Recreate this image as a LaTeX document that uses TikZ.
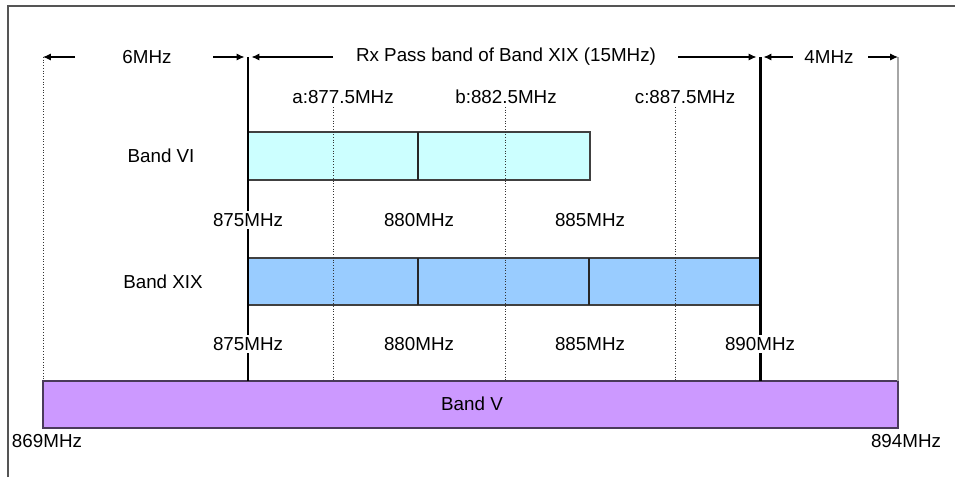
\documentclass[tikz,border=0pt]{standalone}
\usepackage{fontspec}
\setmainfont{Liberation Sans}
\usepackage{xcolor}
\usepackage{tikz}
\usetikzlibrary{arrows.meta}
\definecolor{bandSixColor}{HTML}{CCFFFF}
\definecolor{bandNineteenColor}{HTML}{99CCFF}
\definecolor{bandFiveColor}{HTML}{CC99FF}
\definecolor{bandFiveLine}{HTML}{4A3A5A}
\definecolor{frameColor}{HTML}{555555}

\begin{document}
\begin{tikzpicture}[x=0.02cm, y=-0.02cm, font=\fontsize{10.7}{12.8}\selectfont,
    dim/.style={-{Latex[length=4.5pt, width=4pt]}, line width=0.6pt},
    edgeline/.style={line width=1.7pt},
    markline/.style={densely dotted, line width=0.55pt, black!80},
    bandbox/.style={draw=black!75, line width=0.8pt},
    divider/.style={line width=1.2pt, black!85},
    freq/.style={fill=white, inner sep=1.5pt}]
    \useasboundingbox (0,0) rectangle (955,477);
    \draw[frameColor, line width=1.3pt] (8,477) -- (8,6) -- (955,6);

    % band edges
    \coordinate (top869) at (43,57);  \coordinate (bot869) at (43,381);
    \coordinate (top875) at (248,57); \coordinate (bot875) at (248,381);
    \coordinate (top890) at (760,57); \coordinate (bot890) at (760,381);
    \coordinate (top894) at (898,57); \coordinate (bot894) at (898,381);

    \draw[bandbox, fill=bandSixColor] (248,132) rectangle (590,180);
    \draw[bandbox, fill=bandNineteenColor] (248,258) rectangle (760,305);
    \draw[bandbox, draw=bandFiveLine, fill=bandFiveColor] (43,381) rectangle (898,428);
    \draw[divider] (418,132) -- (418,180);
    \foreach \x in {418,589}
        \draw[divider] (\x,258) -- (\x,305);

    \draw[markline] (top869) -- (bot869);
    \draw[gray!70, line width=0.8pt] (top894) -- (bot894);
    \draw[edgeline] (top875) -- (bot875);
    \draw[edgeline] (top890) -- (bot890);

    % channel centres
    \foreach \x/\n in {333/a, 505/b, 675/c} {
        \coordinate (\n top) at (\x,107);
        \coordinate (\n bot) at (\x,381);
        \draw[markline] (\n top) -- (\n bot);
    }
    \node (a) at (343,97) {a:877.5MHz};
    \node (b) at (506,97) {b:882.5MHz};
    \node (c) at (685,97) {c:887.5MHz};

    % span labels and arrows
    \node (six) at (147,57) {6MHz};
    \node (rx) at (506,57) {Rx Pass band of Band XIX (15MHz)};
    \node (four) at (829,57) {4MHz};
    \coordinate (sixL) at (75,57);   \coordinate (sixR) at (213,57);
    \coordinate (rxL) at (333,57);   \coordinate (rxR) at (678,57);
    \coordinate (fourL) at (793,57); \coordinate (fourR) at (868,57);
    \draw[dim] (sixL) -- (top869);
    \draw[dim, shorten >=2pt] (sixR) -- (top875);
    \draw[dim, shorten >=2pt] (rxL) -- (top875);
    \draw[dim, shorten >=2pt] (rxR) -- (top890);
    \draw[dim, shorten >=2pt] (fourL) -- (top890);
    \draw[dim] (fourR) -- (top894);

    \node (bandVI) at (161,156) {Band VI};
    \node (bandXIX) at (163,282) {Band XIX};
    \node (bandV) at (472,404) {Band V};

    \foreach \x/\f in {248/875, 419/880, 590/885}
        \node[freq] (vi\f) at (\x,220) {\f MHz};
    \foreach \x/\f in {248/875, 419/880, 590/885, 760/890}
        \node[freq] (xix\f) at (\x,344) {\f MHz};
    \node (lo) at (47,441) {869MHz};
    \node (hi) at (906,441) {894MHz};
\end{tikzpicture}
\end{document}
